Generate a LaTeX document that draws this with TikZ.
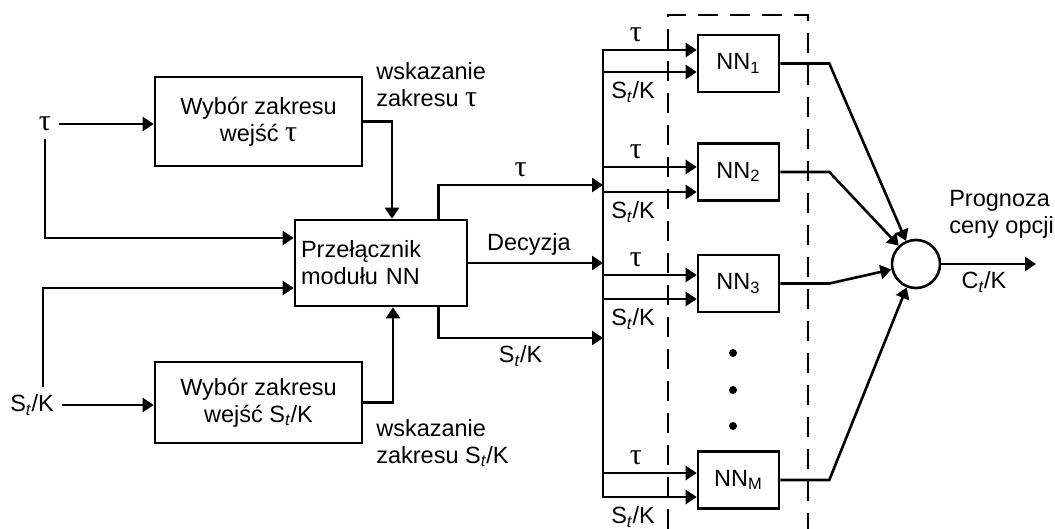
\documentclass[tikz,border=0pt]{standalone}
\usepackage{fontspec}
\setmainfont{Liberation Sans}
\newfontfamily\greekfont{Liberation Serif}
\usetikzlibrary{arrows.meta, positioning}

\newcommand{\StK}{S\textsubscript{\itshape t}/K}
\newcommand{\tauS}{{\greekfont\fontsize{15}{13.5}\selectfont τ}}

\begin{document}
\begin{tikzpicture}[x=0.5pt, y=-0.5pt,
			>={Triangle[length=5.5pt,width=7pt]},   %Pfeilspitzen
			line width=1.3pt, font=\fontsize{11.75}{13.5}\selectfont,
			block/.style={draw, rectangle, inner sep=0pt, align=center},
			nnbox/.style={draw, rectangle, minimum width=40.5pt, minimum height=28.5pt, inner sep=0pt},
			lbl/.style={inner sep=2pt, align=left}]
			%Bildbereich
			\useasboundingbox (0,0) rectangle (1055,529);
			% Eingaenge
			\node (tauin) at (45,124) {\tauS};
			\node (skin) at (32,405) {\StK};
			% Bloecke links
			\node[block, minimum width=103.5pt, minimum height=44.5pt] (wyb1) at (258.5,121.5) {Wybór zakresu\\wejść \tauS};
			\node[block, minimum width=103.5pt, minimum height=40.5pt] (wyb2) at (258.5,402.5) {Wybór zakresu\\wejść \StK};
			\node[draw, rectangle, minimum width=86pt, minimum height=43pt, inner sep=3pt, text width=80pt, align=left] (sw) at (381,263) {Przełącznik\\modułu NN};
			\node[lbl, anchor=west] (wsk1) at (371,85) {wskazanie\\zakresu \tauS};
			\node[lbl, anchor=west] (wsk2) at (371,443) {wskazanie\\zakresu \StK};
			% Verbindungen links
			\draw[->] (tauin) -- (tauin -| wyb1.west);
			\draw[->] (skin) -- (skin -| wyb2.west);
			\draw[->] (tauin.south) |- ([yshift=12.5pt]sw.west);
			\draw[->] ([xshift=5.5pt]skin.north) |- ([yshift=-12.5pt]sw.west);
			\draw[->] (wyb1.east) -| ([xshift=5.5pt]sw.north);
			\draw[->] (wyb2.east) -| ([xshift=6pt]sw.south);
			% Sammelleitung
			\coordinate (bustop) at (603,50);
			\coordinate (busbot) at (603,497);
			\coordinate (b1) at (603,185);
			\coordinate (b2) at (603,263);
			\coordinate (b3) at (603,338);
			\draw[line cap=rect] (bustop) -- (busbot);
			\draw[->] ([xshift=-15pt]sw.north east) |- (b1) node[pos=0.75, above] {\tauS};
			\draw[->] (sw.east) -- (b2) node[pos=0.45, above] {Decyzja};
			\draw[->] ([xshift=-15pt]sw.south east) |- (b3) node[pos=0.75, below] {\StK};
			% Netze NN
			\draw[dashed, dash pattern=on 10pt off 6pt] (668,529) |- (808,15) -- (808,529);
			\foreach \n/\y in {1/63.5, 2/172, 3/283.5, M/480}
				\node[nnbox] (nn\n) at (738.5,\y) {NN\textsubscript{\n}};
			\foreach \y in {353, 390, 426}
				\fill (733,\y) circle (2pt);
			\foreach \n/\dt/\ds in {1/13.5/8.5, 2/5/20, 3/8.5/15.5, M/7/17} {
				\coordinate (ta\n) at ([yshift=\dt*0.5pt]nn\n.west);
				\coordinate (sk\n) at ([yshift=-\ds*0.5pt]nn\n.west);
				\draw[->] (bustop |- ta\n) -- (ta\n) node[pos=0.35, above] {\tauS};
				\draw[->] (bustop |- sk\n) -- (sk\n) node[pos=0.32, below=1pt] {\StK};
			}
			% Summierung
			\node[draw, circle, minimum size=24pt, inner sep=0pt] (sum) at (916,264) {};
			\foreach \n in {1,2,3,M}
				\draw[->] (nn\n.east) -- ++(24.5pt,0) -- (sum);
			\coordinate (outend) at (1036,264);
			\draw[->] (sum) -- (outend) node[pos=0.45, below] {C\textsubscript{\itshape t}/K};
			\node[lbl, anchor=south west] (progn) at (944,244) {Prognoza\\ceny opcji};
		\end{tikzpicture}
\end{document}
